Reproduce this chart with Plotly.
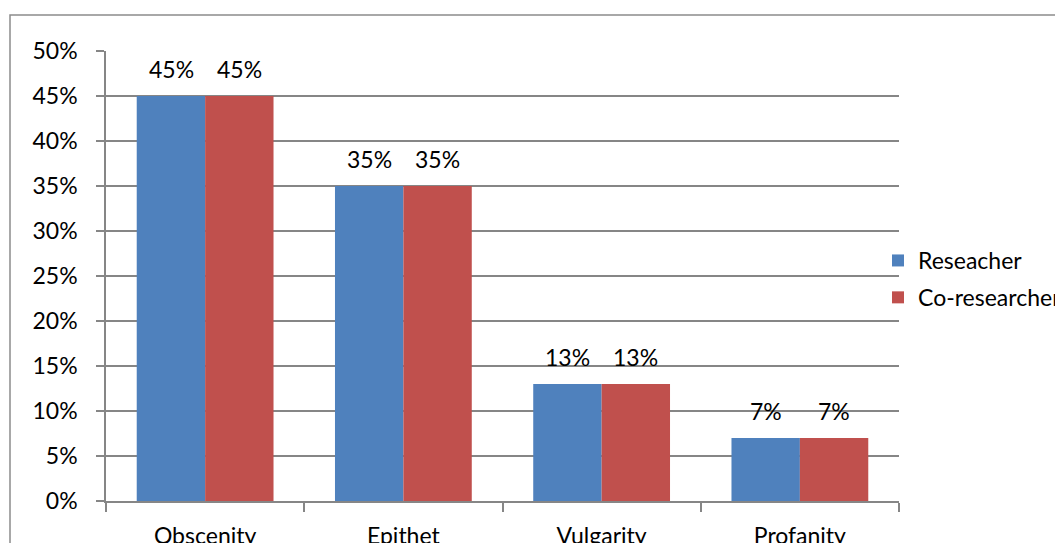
import plotly.graph_objects as go

categories = ["Obscenity", "Epithet", "Vulgarity", "Profanity"]
researcher = [0.45, 0.35, 0.13, 0.07]
co_researcher = [0.45, 0.35, 0.13, 0.07]
series_names = ["Reseacher", "Co-researcher"]
colors = ["#4F81BD", "#C0504D"]
y_ticks = [0, 0.05, 0.10, 0.15, 0.20, 0.25, 0.30, 0.35, 0.40, 0.45, 0.50]

W, H = 1063, 543
OFF = 8  # page body margin
L, T = 106 - OFF, 51 - OFF
pw, ph = 793, 450
R, B = W - L - pw, H - T - ph
FONT = "Lato"
FS = 23

fig = go.Figure()
for name, vals, col in zip(series_names, [researcher, co_researcher], colors):
    fig.add_trace(go.Bar(x=categories, y=vals, name=name, marker_color=col,
                         marker_line_width=0, legendgroup=name))

annotations = []
for i, vals in enumerate([researcher, co_researcher]):
    shift = -34 if i == 0 else 34
    for c, v in zip(categories, vals):
        annotations.append(dict(x=c, y=v, xref="x", yref="y", text=f"{round(v*100)}%",
                                showarrow=False, xshift=shift, yshift=27,
                                font=dict(family=FONT, size=FS, color="black")))

fig.update_layout(
    width=W, height=H,
    margin=dict(l=L, r=R, t=T, b=B, autoexpand=False),
    paper_bgcolor="white", plot_bgcolor="white",
    barmode="group", bargap=0.31, bargroupgap=0,
    font=dict(family=FONT, size=FS, color="black"),
    annotations=annotations,
    legend=dict(x=(878 - 106) / pw, y=(501 - 279) / ph, xanchor="left", yanchor="middle",
                font=dict(family=FONT, size=FS, color="black"),
                bgcolor="rgba(0,0,0,0)", itemwidth=30, tracegroupgap=4),
    xaxis=dict(showline=True, linecolor="#868686", linewidth=1.5, automargin=False,
               ticks="outside", tickson="boundaries", ticklen=9, tickcolor="#868686",
               tickwidth=1.5, showgrid=False, ticklabelstandoff=14,
               tickfont=dict(size=FS, color="black")),
    yaxis=dict(range=[0, 0.5], tickvals=y_ticks, tickformat=".0%", automargin=False,
               showline=True, linecolor="#868686", linewidth=1.5,
               ticks="outside", ticklen=8, tickcolor="#868686", tickwidth=1.5,
               showgrid=True, gridcolor="#868686", gridwidth=1.5, zeroline=False,
               ticklabelstandoff=14, tickfont=dict(size=FS, color="black")),
    shapes=[dict(type="rect", xref="paper", yref="paper",
                 x0=(10 - 106) / pw, x1=(1080 - 106) / pw,
                 y0=(501 - 560) / ph, y1=1 + (51 - 15) / ph,
                 line=dict(color="#8c8c8c", width=1.5), fillcolor="rgba(0,0,0,0)",
                 layer="below")],
)

fig.write_html("out.html")
